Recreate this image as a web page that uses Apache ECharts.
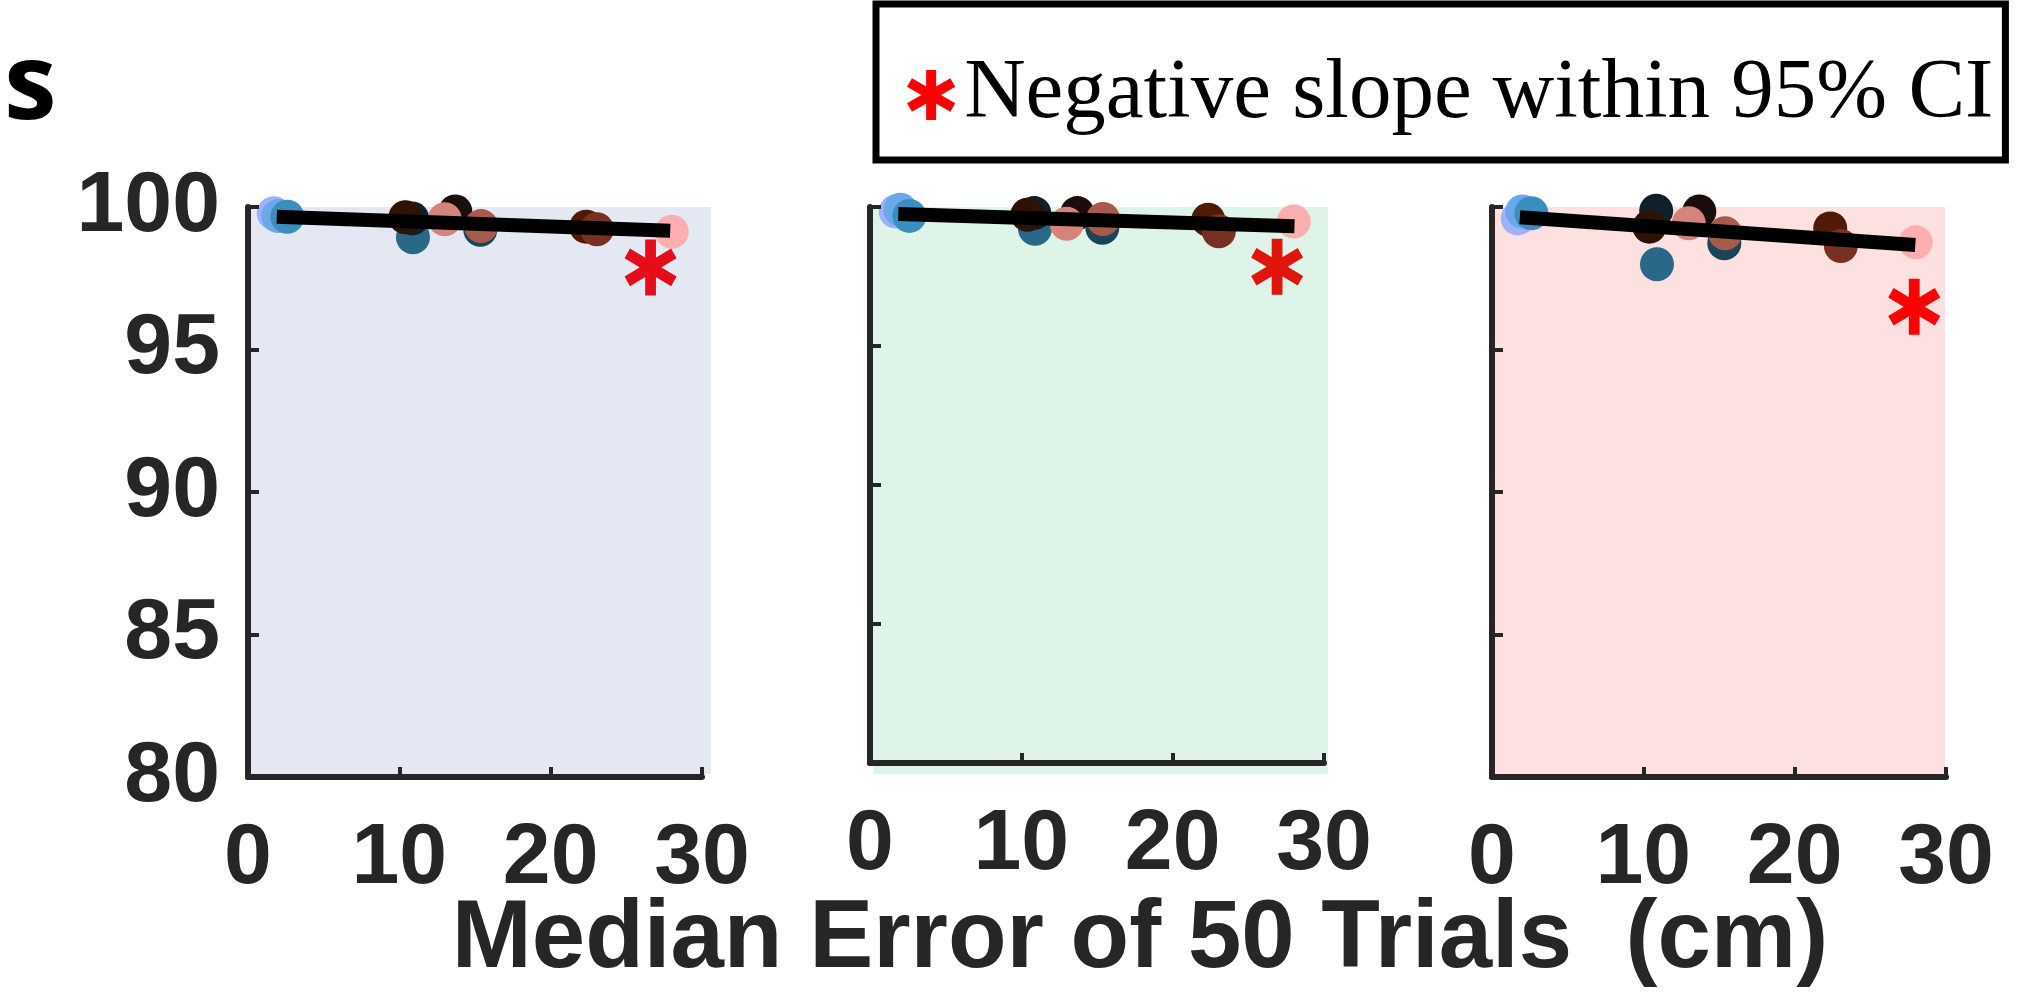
<!DOCTYPE html>
<html>
<head>
<meta charset="utf-8">
<script src="https://cdn.jsdelivr.net/npm/echarts@6/dist/echarts.min.js"></script>
<style>
  html, body { margin: 0; padding: 0; background: #fff; }
  #chart { width: 2037px; height: 994px; }
</style>
</head>
<body>
<div id="chart"></div>
<script>
// ---- data ----
const xTickValues = [0, 10, 20, 30];
const yTickValues = [80, 85, 90, 95, 100];
const legendName = 'Negative slope within 95% CI';
const xAxisTitle = 'Median Error of 50 Trials  (cm)';
const panelLetter = 's';

// median error (cm) of each condition, shared by the three panels
const conditionX = [1.7, 2.0, 2.6, 10.9, 10.85, 10.4, 13.7, 13.0, 15.35, 15.4, 22.35, 23.05, 28.0];
// y values per panel
const panel1Y = [99.78, 99.68, 99.66, 98.94, 99.60, 99.64, 99.84, 99.57, 99.20, 99.33, 99.31, 99.22, 99.13];
const panel2Y = [99.84, 99.90, 99.68, 99.22, 99.78, 99.72, 99.78, 99.40, 99.25, 99.57, 99.54, 99.13, 99.48];
const panel3Y = [99.60, 99.84, 99.78, 97.99, 99.87, 99.31, 99.84, 99.43, 98.73, 99.08, 99.25, 98.63, 98.76];
// regression line end points per panel
const fit1X = [1.9, 27.9],  fit1Y = [99.66, 99.17];
const fit2X = [1.87, 28.05], fit2Y = [99.75, 99.31];
const fit3X = [1.84, 27.97], fit3Y = [99.64, 98.67];
// significance asterisks per panel
const starX = [26.6, 26.9, 27.9];
const starY = [97.88, 97.85, 96.5];

// ---- styles ----
const pointColors = ['#9fb0ff', '#6aa8e8', '#3a8fc0', '#2a6887', '#10202b', '#2e1206', '#1b0d0b',
                     '#d4847a', '#1a4558', '#a85b4b', '#4f1a06', '#7a3020', '#fdaeae'];
const bgColors = ['#e4e8f2', '#dff4e8', '#fde0e0'];
const starColors = ['#e50d17', '#e0150b', '#ff0000'];
const axisColor = '#262626';
const sansFont = '"Liberation Sans", Arial, Helvetica, sans-serif';
const starPath = 'path://M-2,10L2,10L2,-10L-2,-10Z' +
  'M7.66,6.73L9.66,3.27L-7.66,-6.73L-9.66,-3.27Z' +
  'M9.66,-3.27L7.66,-6.73L-9.66,3.27L-7.66,6.73Z';

const panelsY = [panel1Y, panel2Y, panel3Y];
const fitsX = [fit1X, fit2X, fit3X];
const fitsY = [fit1Y, fit2Y, fit3Y];
const gridLefts = [248, 870, 1492];
const bgWidths = [460, 455, 450];

const chart = echarts.init(document.getElementById('chart'), null, { renderer: 'canvas' });

const grids = [], xAxes = [], yAxes = [], series = [];
for (let i = 0; i < 3; i++) {
  grids.push({ left: gridLefts[i], top: 207, width: 454, height: 570 });
  xAxes.push({
    type: 'value', gridIndex: i, min: xTickValues[0], max: xTickValues[xTickValues.length - 1], interval: 10, z: 10,
    axisLine: { show: true, onZero: false, lineStyle: { color: axisColor, width: 6 } },
    axisTick: { show: true, inside: true, length: 10, lineStyle: { color: axisColor, width: 4 } },
    splitLine: { show: false },
    axisLabel: { show: true, margin: 39, color: axisColor, fontFamily: sansFont, fontWeight: 'bold', fontSize: 86 },
    name: i === 1 ? xAxisTitle : '',
    nameLocation: 'middle', nameGap: 114,
    nameTextStyle: { color: axisColor, fontFamily: sansFont, fontWeight: 'bold', fontSize: 96, padding: [0, 0, 0, 86] }
  });
  yAxes.push({
    type: 'value', gridIndex: i, min: yTickValues[0], max: yTickValues[yTickValues.length - 1], interval: 5, z: 10,
    axisLine: { show: true, onZero: false, lineStyle: { color: axisColor, width: 6 } },
    axisTick: { show: true, inside: true, length: 11, lineStyle: { color: axisColor, width: 4 } },
    splitLine: { show: false },
    axisLabel: { show: i === 0, margin: 28, color: axisColor, fontFamily: sansFont, fontWeight: 'bold', fontSize: 86,
                 padding: [8, 0, 0, 0] }
  });
  // data points
  series.push({
    type: 'scatter', xAxisIndex: i, yAxisIndex: i, z: 2, symbolSize: 34, clip: false,
    data: conditionX.map((x, j) => ({ value: [x, panelsY[i][j]], itemStyle: { color: pointColors[j], opacity: 1 } }))
  });
  // regression line
  series.push({
    type: 'line', xAxisIndex: i, yAxisIndex: i, z: 3, symbol: 'none', silent: true, clip: false,
    lineStyle: { color: '#000', width: 14, cap: 'butt' },
    data: fitsX[i].map((x, k) => [x, fitsY[i][k]])
  });
  // asterisk
  series.push({
    type: 'scatter', name: legendName, xAxisIndex: i, yAxisIndex: i, z: 4, clip: false,
    symbol: starPath, symbolSize: [52, 56], itemStyle: { color: starColors[i], opacity: 1 },
    data: [[starX[i], starY[i]]]
  });
}
// coloured background patches (slightly wider than the axes, as in the reference)
for (let i = 0; i < 3; i++) {
  grids.push({ left: gridLefts[i] + 3, top: 207, width: bgWidths[i], height: 567, show: true,
               backgroundColor: bgColors[i], borderWidth: 0, z: -1 });
  xAxes.push({ type: 'value', gridIndex: 3 + i, show: false });
  yAxes.push({ type: 'value', gridIndex: 3 + i, show: false });
}

chart.setOption({
  animation: false,
  backgroundColor: '#fff',
  title: {
    text: panelLetter, left: 4, top: 36, padding: 0,
    textStyle: { fontFamily: '"Open Sans", sans-serif', fontWeight: 'bold', fontSize: 106, color: '#000' }
  },
  legend: {
    data: [{ name: legendName, icon: starPath, itemStyle: { color: '#ff0000' } }],
    left: 876, top: 4, padding: [46, 12, 20, 31],
    borderColor: '#000', borderWidth: 7, backgroundColor: '#fff',
    itemWidth: 56, itemHeight: 50, selectedMode: false,
    textStyle: { fontFamily: '"Liberation Serif", "Times New Roman", serif', fontSize: 85, color: '#000', lineHeight: 90 }
  },
  grid: grids,
  xAxis: xAxes,
  yAxis: yAxes,
  series: series
});
</script>
</body>
</html>
